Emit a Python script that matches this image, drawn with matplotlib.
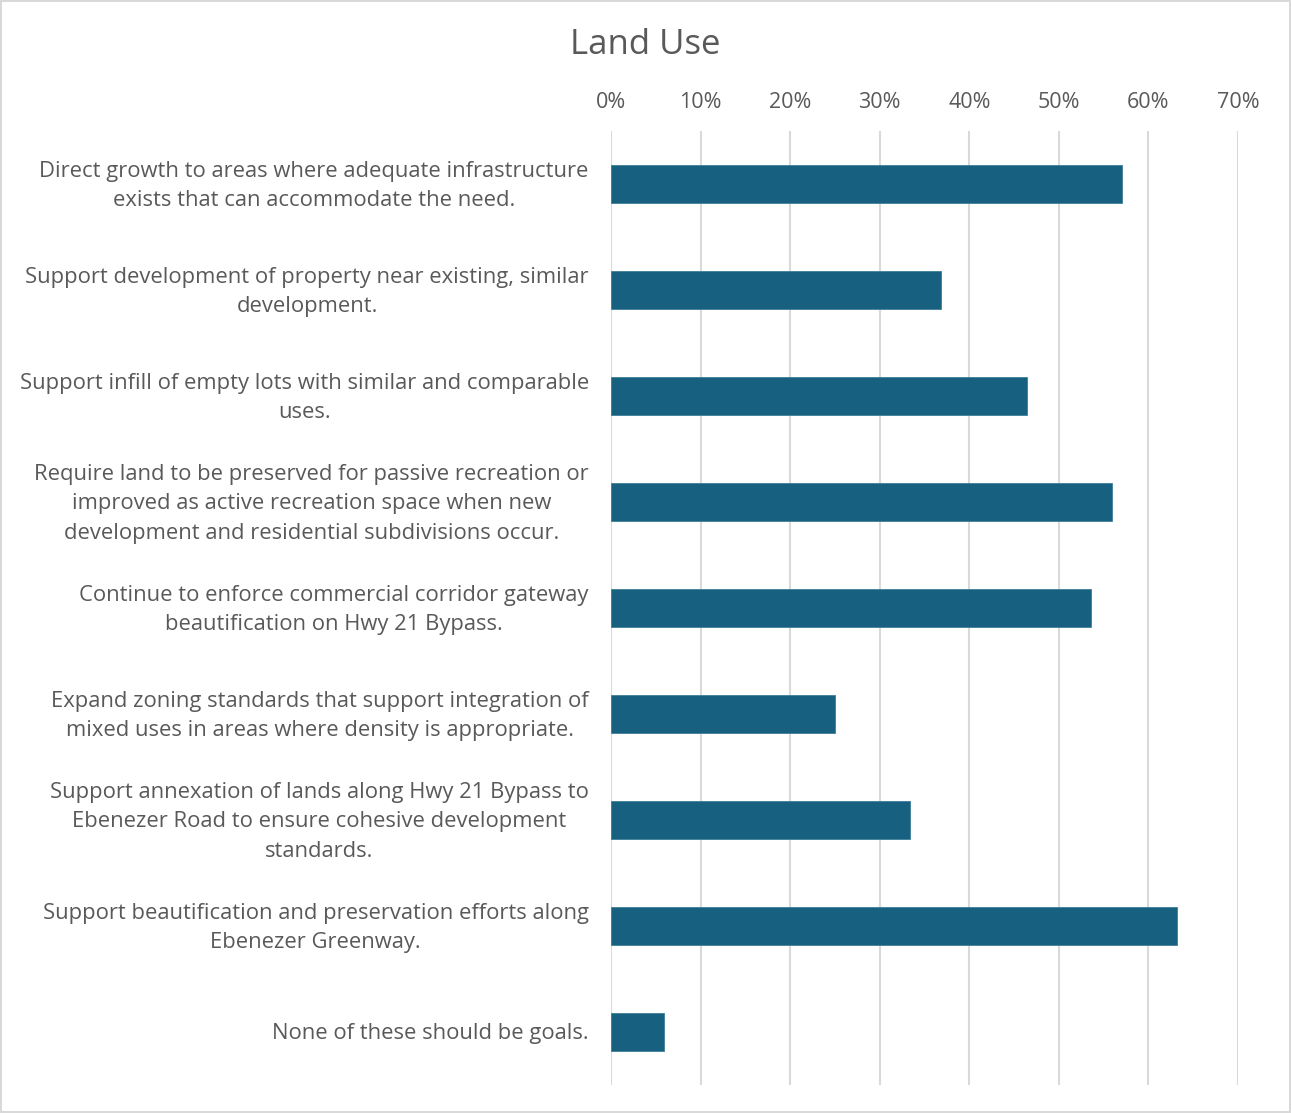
import matplotlib
matplotlib.use("Agg")
import matplotlib.pyplot as plt
import matplotlib.transforms as mtransforms
from matplotlib.ticker import FuncFormatter, MultipleLocator

plt.rcParams['font.family'] = ['Open Sans', 'DejaVu Sans']

categories = [
    "Direct growth to areas where adequate infrastructure\nexists that can accommodate the need.",
    "Support development of property near existing, similar\ndevelopment.",
    "Support infill of empty lots with similar and comparable\nuses.",
    "Require land to be preserved for passive recreation or\nimproved as active recreation space when new\ndevelopment and residential subdivisions occur.",
    "Continue to enforce commercial corridor gateway\nbeautification on Hwy 21 Bypass.",
    "Expand zoning standards that support integration of\nmixed uses in areas where density is appropriate.",
    "Support annexation of lands along Hwy 21 Bypass to\nEbenezer Road to ensure cohesive development\nstandards.",
    "Support beautification and preservation efforts along\nEbenezer Greenway.",
    "None of these should be goals.",
]
values = [0.571, 0.368, 0.464, 0.559, 0.536, 0.250, 0.334, 0.632, 0.059]
title = "Land Use"

text_color = "#595959"
bar_color = "#17607f"
grid_color = "#d9d9d9"

fig = plt.figure(figsize=(12.91, 11.13), dpi=100)
fig.patch.set_facecolor("white")
fig.patch.set_edgecolor(grid_color)
fig.patch.set_linewidth(1.5)

ax = fig.add_axes([611 / 1291, 1 - 1085 / 1113, (1238 - 611) / 1291, (1085 - 131) / 1113])

y = list(range(len(categories)))
ax.barh(y, values, height=0.36, color=bar_color, edgecolor="#3f7f9c", linewidth=0.6, zorder=3)

ax.set_ylim(len(categories) - 0.5, -0.5)
ax.set_xlim(0, 0.7)
ax.xaxis.set_major_locator(MultipleLocator(0.1))
ax.xaxis.set_major_formatter(FuncFormatter(lambda v, p: f"{round(v * 100)}%"))
ax.xaxis.tick_top()
ax.tick_params(axis="x", length=0, pad=13, labelsize=15.5, labelcolor=text_color)
ax.tick_params(axis="y", length=0, pad=16, labelsize=15.8, labelcolor=text_color)

ax.set_yticks(y)
ax.set_yticklabels(categories, ha="right", multialignment="center", linespacing=1.55)

# nudge category labels so each text block sits centred on its bar
for lbl in ax.get_yticklabels():
    dy = 1 if "\n" not in lbl.get_text() else 5
    shift = mtransforms.ScaledTranslation(0, dy / 100, fig.dpi_scale_trans)
    lbl.set_transform(lbl.get_transform() + shift)

ax.grid(axis="x", color=grid_color, linewidth=1.5, zorder=0)
for s in ax.spines.values():
    s.set_visible(False)

fig.text(0.5, 1 - 45 / 1113, title, ha="center", va="center", fontsize=25, color=text_color)

fig.savefig("out.png", dpi=100, facecolor=fig.get_facecolor(), edgecolor=fig.get_edgecolor())
